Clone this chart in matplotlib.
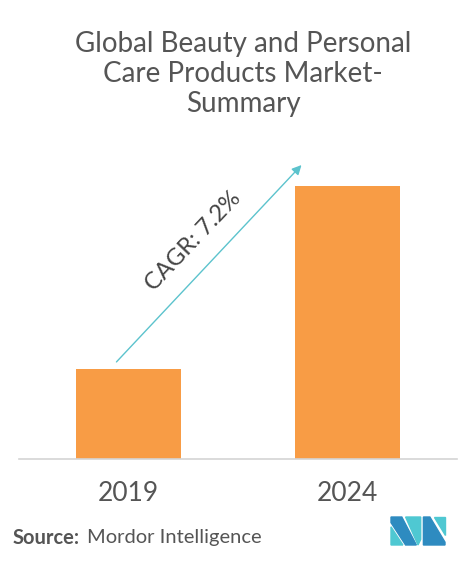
import matplotlib.pyplot as plt
from matplotlib.patches import Polygon

# Data
years = ['2019', '2024']
values = [33, 100]
cagr_label = 'CAGR: 7.2%'

BAR_COLOR = '#f89c45'
ARROW_COLOR = '#5cc3cd'
TEXT_COLOR = '#555555'
LOGO_DARK = '#2e8bc0'
LOGO_LIGHT = '#4fc8d2'

plt.rcParams['font.family'] = ['Lato', 'DejaVu Sans']

fig = plt.figure(figsize=(4.74, 5.63), dpi=100)
fig.patch.set_facecolor('white')

# title
fig.text(243 / 474, 1 - 74 / 563, 'Global Beauty and Personal\nCare Products Market-\nSummary',
         ha='center', va='center', fontsize=20,
         color=TEXT_COLOR, linespacing=1.18)

# chart area
ax = fig.add_axes([19 / 474, 104 / 563, 438 / 474, 309 / 563])
x = list(range(len(years)))
ax.bar(x, values, width=0.475, color=BAR_COLOR)
ax.set_xlim(-0.5, 1.5)
ax.set_ylim(0, 113)
ax.set_xticks(x)
ax.set_xticklabels(years, fontsize=19, color=TEXT_COLOR)
ax.tick_params(axis='x', length=0, pad=16)
ax.set_yticks([])
for s in ['top', 'right', 'left']:
    ax.spines[s].set_visible(False)
ax.spines['bottom'].set_color('#d4d4d4')
ax.spines['bottom'].set_linewidth(1.2)

# CAGR arrow
ax.annotate('', xy=(0.79, values[1] + 7.5), xytext=(-0.055, values[0] + 2.5),
            arrowprops=dict(arrowstyle='-|>', color=ARROW_COLOR, lw=1.0,
                            mutation_scale=14, shrinkA=0, shrinkB=0))
ax.text(0.295, 79.5, cagr_label, rotation=46.5, ha='center', va='center',
        fontsize=17, color='#444444', rotation_mode='anchor')

# source
fig.text(13 / 474, 1 - 538 / 563, 'Source:', fontsize=14.5, fontweight='bold',
         color=TEXT_COLOR, ha='left', va='center')
fig.text(87 / 474, 1 - 538 / 563, 'Mordor Intelligence', fontsize=14.5,
         color=TEXT_COLOR, ha='left', va='center')

# logo
lx, ly, lw, lh = 391 / 474, 1 - 545 / 563, 54 / 474, 28 / 563
def logo_poly(pts, color):
    fig.patches.append(Polygon([(lx + px * lw, ly + py * lh) for px, py in pts],
                               closed=True, color=color, transform=fig.transFigure))

logo_poly([(0, 0), (0, 0.65), (0.22, 0)], LOGO_LIGHT)
logo_poly([(0, 1), (0.2, 1), (0.47, 0), (0.27, 0), (0, 0.8)], LOGO_DARK)
logo_poly([(0.27, 1), (0.55, 1), (0.55, 0.2), (0.5, 0)], LOGO_LIGHT)
logo_poly([(0.6, 1), (0.72, 1), (1, 0.1), (1, 0), (0.6, 0)], LOGO_DARK)
logo_poly([(0.8, 1), (1, 1), (1, 0.35)], LOGO_LIGHT)

fig.savefig('out.png', dpi=100)
